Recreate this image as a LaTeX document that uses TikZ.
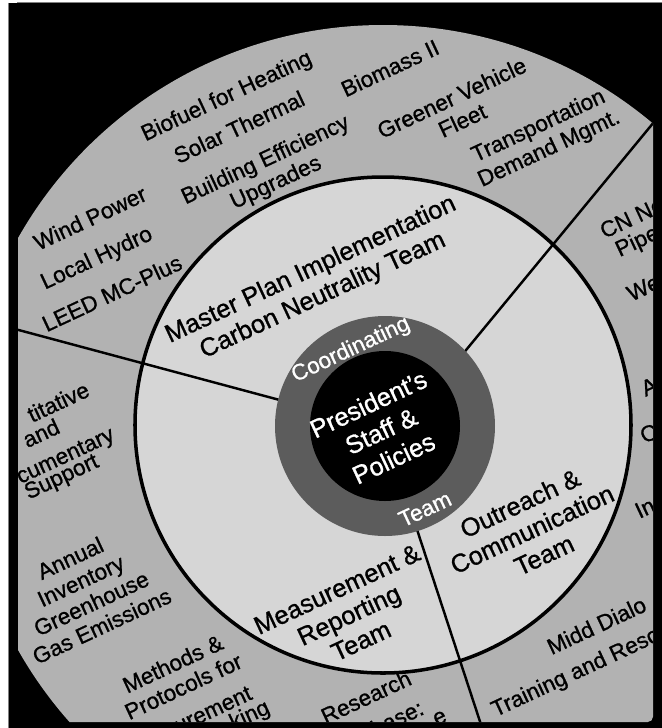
\documentclass[tikz,border=0pt]{standalone}
\usepackage{fontspec}
\setmainfont{Liberation Sans}[UprightFeatures={FakeBold=1}]
\definecolor{ringgray}{RGB}{178,178,178}
\definecolor{teamgray}{RGB}{214,214,214}
\definecolor{coordgray}{RGB}{92,92,92}
\begin{document}
\begin{tikzpicture}[x=0.02cm, y=-0.02cm,
  outer/.style={rotate=25, align=center, inner sep=0pt, font=\fontsize{12.8}{14.2}\selectfont},
  team/.style={rotate=25, align=center, inner sep=0pt, font=\fontsize{14.5}{16.2}\selectfont},
  core/.style={rotate=25, align=center, inner sep=0pt, text=white, font=\fontsize{14.5}{17}\selectfont}]
\useasboundingbox (0,0) rectangle (662,728);
\fill[white] (0,0) rectangle (662,728);
\fill[black] (8,2.5) rectangle (662,728);
\draw[gray, line width=0.5pt] (8,2.5) -- (8,728);
\draw[gray, line width=0.5pt] (17,2.5) -- (662,2.5);
\coordinate (octr) at (383,444);
\coordinate (ctr) at (383,425);
\coordinate (pctr) at (385,426);
\coordinate (ne1) at (429,395);
\coordinate (ne2) at (687,82);
\coordinate (w1) at (317,410);
\coordinate (w2) at (0,325);
\coordinate (s1) at (406,496);
\coordinate (s2) at (490,752);
\begin{scope}
  \clip[rounded corners=3pt] (18,0) rectangle (653,722);
  \fill[ringgray] (octr) circle (419);
  \fill[teamgray] (ctr) circle (248);
  \begin{scope}
    \clip (octr) circle (419);
    \draw[line width=1.4pt] (ne1) -- (ne2);
    \draw[line width=1.4pt] (w1) -- (w2);
    \draw[line width=1.4pt] (s1) -- (s2);
  \end{scope}
  \draw[line width=2pt] (ctr) circle (248);
  \fill[coordgray] (pctr) circle (110);
  \fill[black] (pctr) circle (75);

  \node[outer] (bio) at (227,97) {Biofuel for Heating};
  \node[outer] (solar) at (239,127) {Solar Thermal};
  \node[outer] (biomass) at (390,68) {Biomass II};
  \node[outer] (build) at (271,172) {Building Efficiency\\Upgrades};
  \node[outer] (fleet) at (457,109) {Greener Vehicle\\Fleet};
  \node[outer] (tdm) at (544,138) {Transportation\\Demand Mgmt.};
  \node[outer] (wind) at (90,218) {Wind Power};
  \node[outer] (hydro) at (97,259) {Local Hydro};
  \node[outer] (leed) at (112,293) {LEED MC-Plus};
  \node[outer, anchor=west] (cnn) at (601,232) {CN Ne};
  \node[outer, anchor=west] (pipe) at (617,252) {Pipe};
  \node[outer, anchor=west] (web) at (628,295) {We};
  \node[outer, anchor=west] (arta) at (642,390) {A};
  \node[outer, anchor=west] (arto) at (641,437) {O};
  \node[outer, anchor=west] (arti) at (636,512) {In};
  \node[outer, anchor=east] (quant) at (88,388) {titative};
  \node[outer] (qand) at (41,433) {and};
  \node[outer, anchor=east] (docu) at (114,435) {cumentary};
  \node[outer] (supp) at (62,478) {Support};
  \node[outer] (ghg) at (86,592) {Annual\\Inventory\\Greenhouse\\Gas Emissions};
  \node[outer] (methods) at (178,675) {Methods \&\\Protocols for};
  \node[outer] (meas) at (208,712) {surement};
  \node[outer] (track) at (250,716) {king};
  \node[outer] (res) at (366,697) {Research};
  \node[outer] (dbase) at (397,718) {base:};
  \node[outer] (know) at (440,718) {e};
  \node[outer, anchor=west] (midd) at (548,648) {Midd Dialo};
  \node[outer, anchor=west] (train) at (493,712) {Training and Reso};

  \node[team] (mpi) at (317,283) {Master Plan Implementation\\Carbon Neutrality Team};
  \node[team] (ocomm) at (532,529) {Outreach \&\\Communication\\Team};
  \node[team] (mrep) at (349,615) {Measurement \&\\Reporting\\Team};
  \node[core] (pres) at (381,431) {President's\\Staff \&\\Policies};
  \node[core, font=\fontsize{12.8}{14.2}\selectfont] (coord) at (351,350) {Coordinating};
  \node[core, font=\fontsize{12.8}{14.2}\selectfont] (cteam) at (425,509) {Team};
\end{scope}
\end{tikzpicture}
\end{document}
